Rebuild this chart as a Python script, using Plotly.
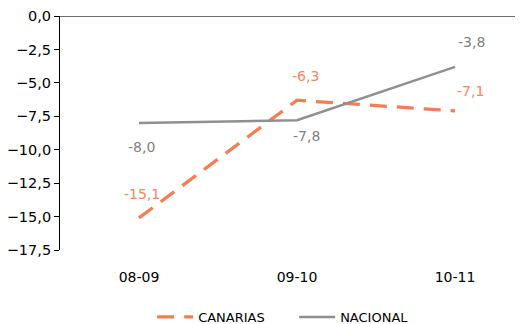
import plotly.graph_objects as go

categories = ["08-09", "09-10", "10-11"]
canarias = [-15.1, -6.3, -7.1]
nacional = [-8.0, -7.8, -3.8]
y_ticks = [0.0, -2.5, -5.0, -7.5, -10.0, -12.5, -15.0, -17.5]

ORANGE = "#F47E52"
ORANGE_LBL = "#F4875F"
GRAY = "#8E9093"
GRAY_LBL = "#7F7F7F"
FONT = "Verdana, DejaVu Sans, sans-serif"

fig = go.Figure()
fig.add_trace(go.Scatter(x=categories, y=canarias, mode="lines", name="CANARIAS",
                         line=dict(color=ORANGE, width=3.25, dash="17px,10px")))
fig.add_trace(go.Scatter(x=categories, y=nacional, mode="lines", name="NACIONAL",
                         line=dict(color=GRAY, width=2.5)))

def fmt(v):
    return f"{v:.1f}".replace(".", ",")

can_shift = [(3, 24), (8, 24), (15, 20)]
nac_shift = [(2, -24), (9, -16), (16, 25)]
for c, v, (dx, dy) in zip(categories, canarias, can_shift):
    fig.add_annotation(x=c, y=v, text=fmt(v), showarrow=False, xshift=dx, yshift=dy,
                       font=dict(family=FONT, size=14, color=ORANGE_LBL))
for c, v, (dx, dy) in zip(categories, nacional, nac_shift):
    fig.add_annotation(x=c, y=v, text=fmt(v), showarrow=False, xshift=dx, yshift=dy,
                       font=dict(family=FONT, size=14, color=GRAY_LBL))

# horizontal category axis line at zero
fig.add_shape(type="line", xref="paper", x0=0, x1=1, yref="y", y0=0, y1=0,
              line=dict(color="#6E6E6E", width=2))

fig.update_layout(
    width=515, height=324,
    margin=dict(l=52, r=0, t=8, b=81),
    paper_bgcolor="white", plot_bgcolor="white",
    separators=",.",
    font=dict(family=FONT, size=14, color="#000000"),
    showlegend=True,
    legend=dict(orientation="h", x=0.199, xanchor="left", y=-0.289, yanchor="middle",
                font=dict(family=FONT, size=13, color="#000000"),
                itemwidth=36, entrywidth=91, tracegroupgap=0),
    xaxis=dict(type="category", range=[-0.5, 2.43], showgrid=False, zeroline=False,
               showline=False, ticks="", tickfont=dict(size=14), ticklabelstandoff=17,
               automargin=False),
    yaxis=dict(range=[-17.5, 0], tickvals=y_ticks, tickformat=".1f", showgrid=False,
               zeroline=False, showline=True, linecolor="#000000", linewidth=1,
               ticks="outside", ticklen=5, tickcolor="#000000", tickfont=dict(size=14.5),
               ticklabeloverflow="allow", automargin=False),
)

fig.write_html("out.html")
